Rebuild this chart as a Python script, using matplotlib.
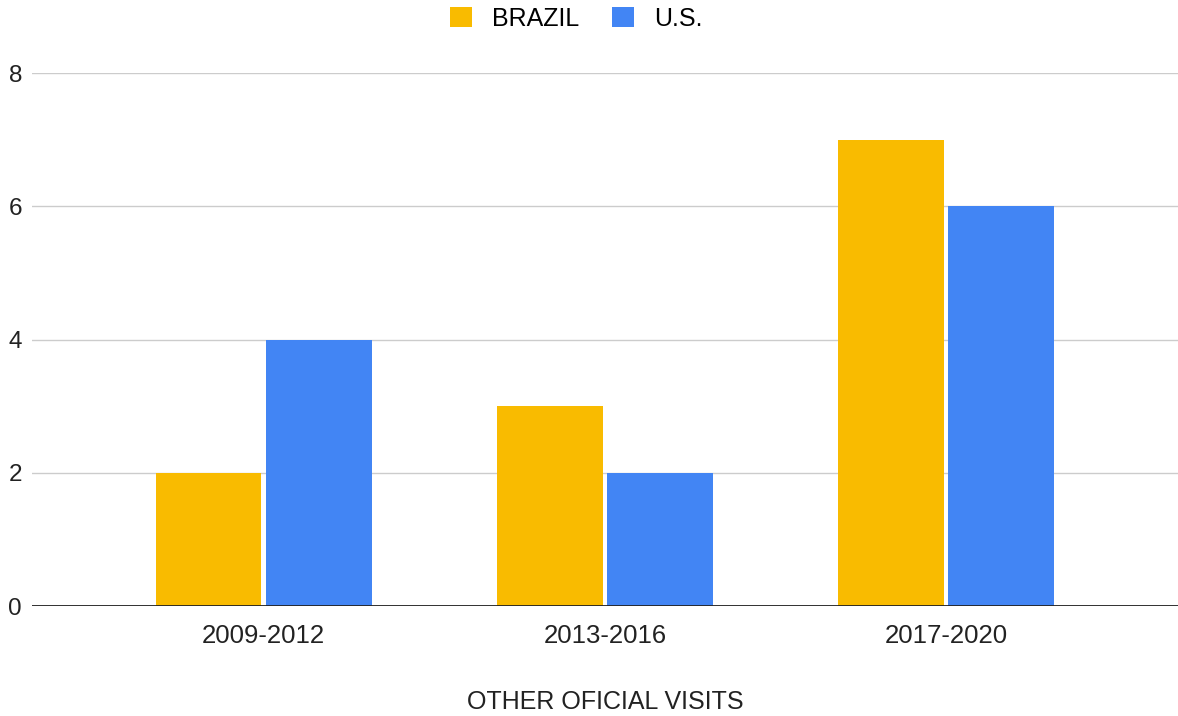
import numpy as np
import matplotlib.pyplot as plt

plt.rcParams['font.family'] = ['Liberation Sans', 'DejaVu Sans']

periods = ['2009-2012', '2013-2016', '2017-2020']
brazil = [2, 3, 7]
us = [4, 2, 6]
series_names = ['BRAZIL', 'U.S.']
yticks = [0, 2, 4, 6, 8]


def main():
    fig = plt.figure(figsize=(11.78, 7.16), dpi=100)
    ax = fig.add_axes([0.027, 0.1536, 0.973, 0.7444])

    x = np.arange(len(periods))
    w = 0.31
    off = 0.162
    ax.bar(x - off, brazil, w, color='#F9BB00', label=series_names[0], zorder=3)
    ax.bar(x + off, us, w, color='#4285F4', label=series_names[1], zorder=3)

    ax.set_xlim(-0.68, 2.68)
    ax.set_ylim(0, 8)
    ax.set_yticks(yticks)
    ax.set_xticks(x)
    ax.set_xticklabels(periods)
    ax.grid(axis='y', color='#cccccc', linewidth=1, zorder=0)
    ax.axhline(0, color='#222222', linewidth=1.3, zorder=4)

    for s in ax.spines.values():
        s.set_visible(False)
    ax.tick_params(axis='both', length=0, colors='#222222')
    ax.tick_params(axis='x', labelsize=18.5, pad=13)
    ax.tick_params(axis='y', labelsize=17.5, pad=7)

    ax.set_xlabel('OTHER OFICIAL VISITS', fontsize=18, color='#222222', labelpad=30)

    fig.legend(loc='upper center', bbox_to_anchor=(0.489, 1.022), ncol=2, frameon=False,
               fontsize=18, handlelength=0.9, handleheight=0.9, columnspacing=1.3,
               handletextpad=0.78)

    fig.savefig('out.png', dpi=100)


if __name__ == "__main__":
    main()
